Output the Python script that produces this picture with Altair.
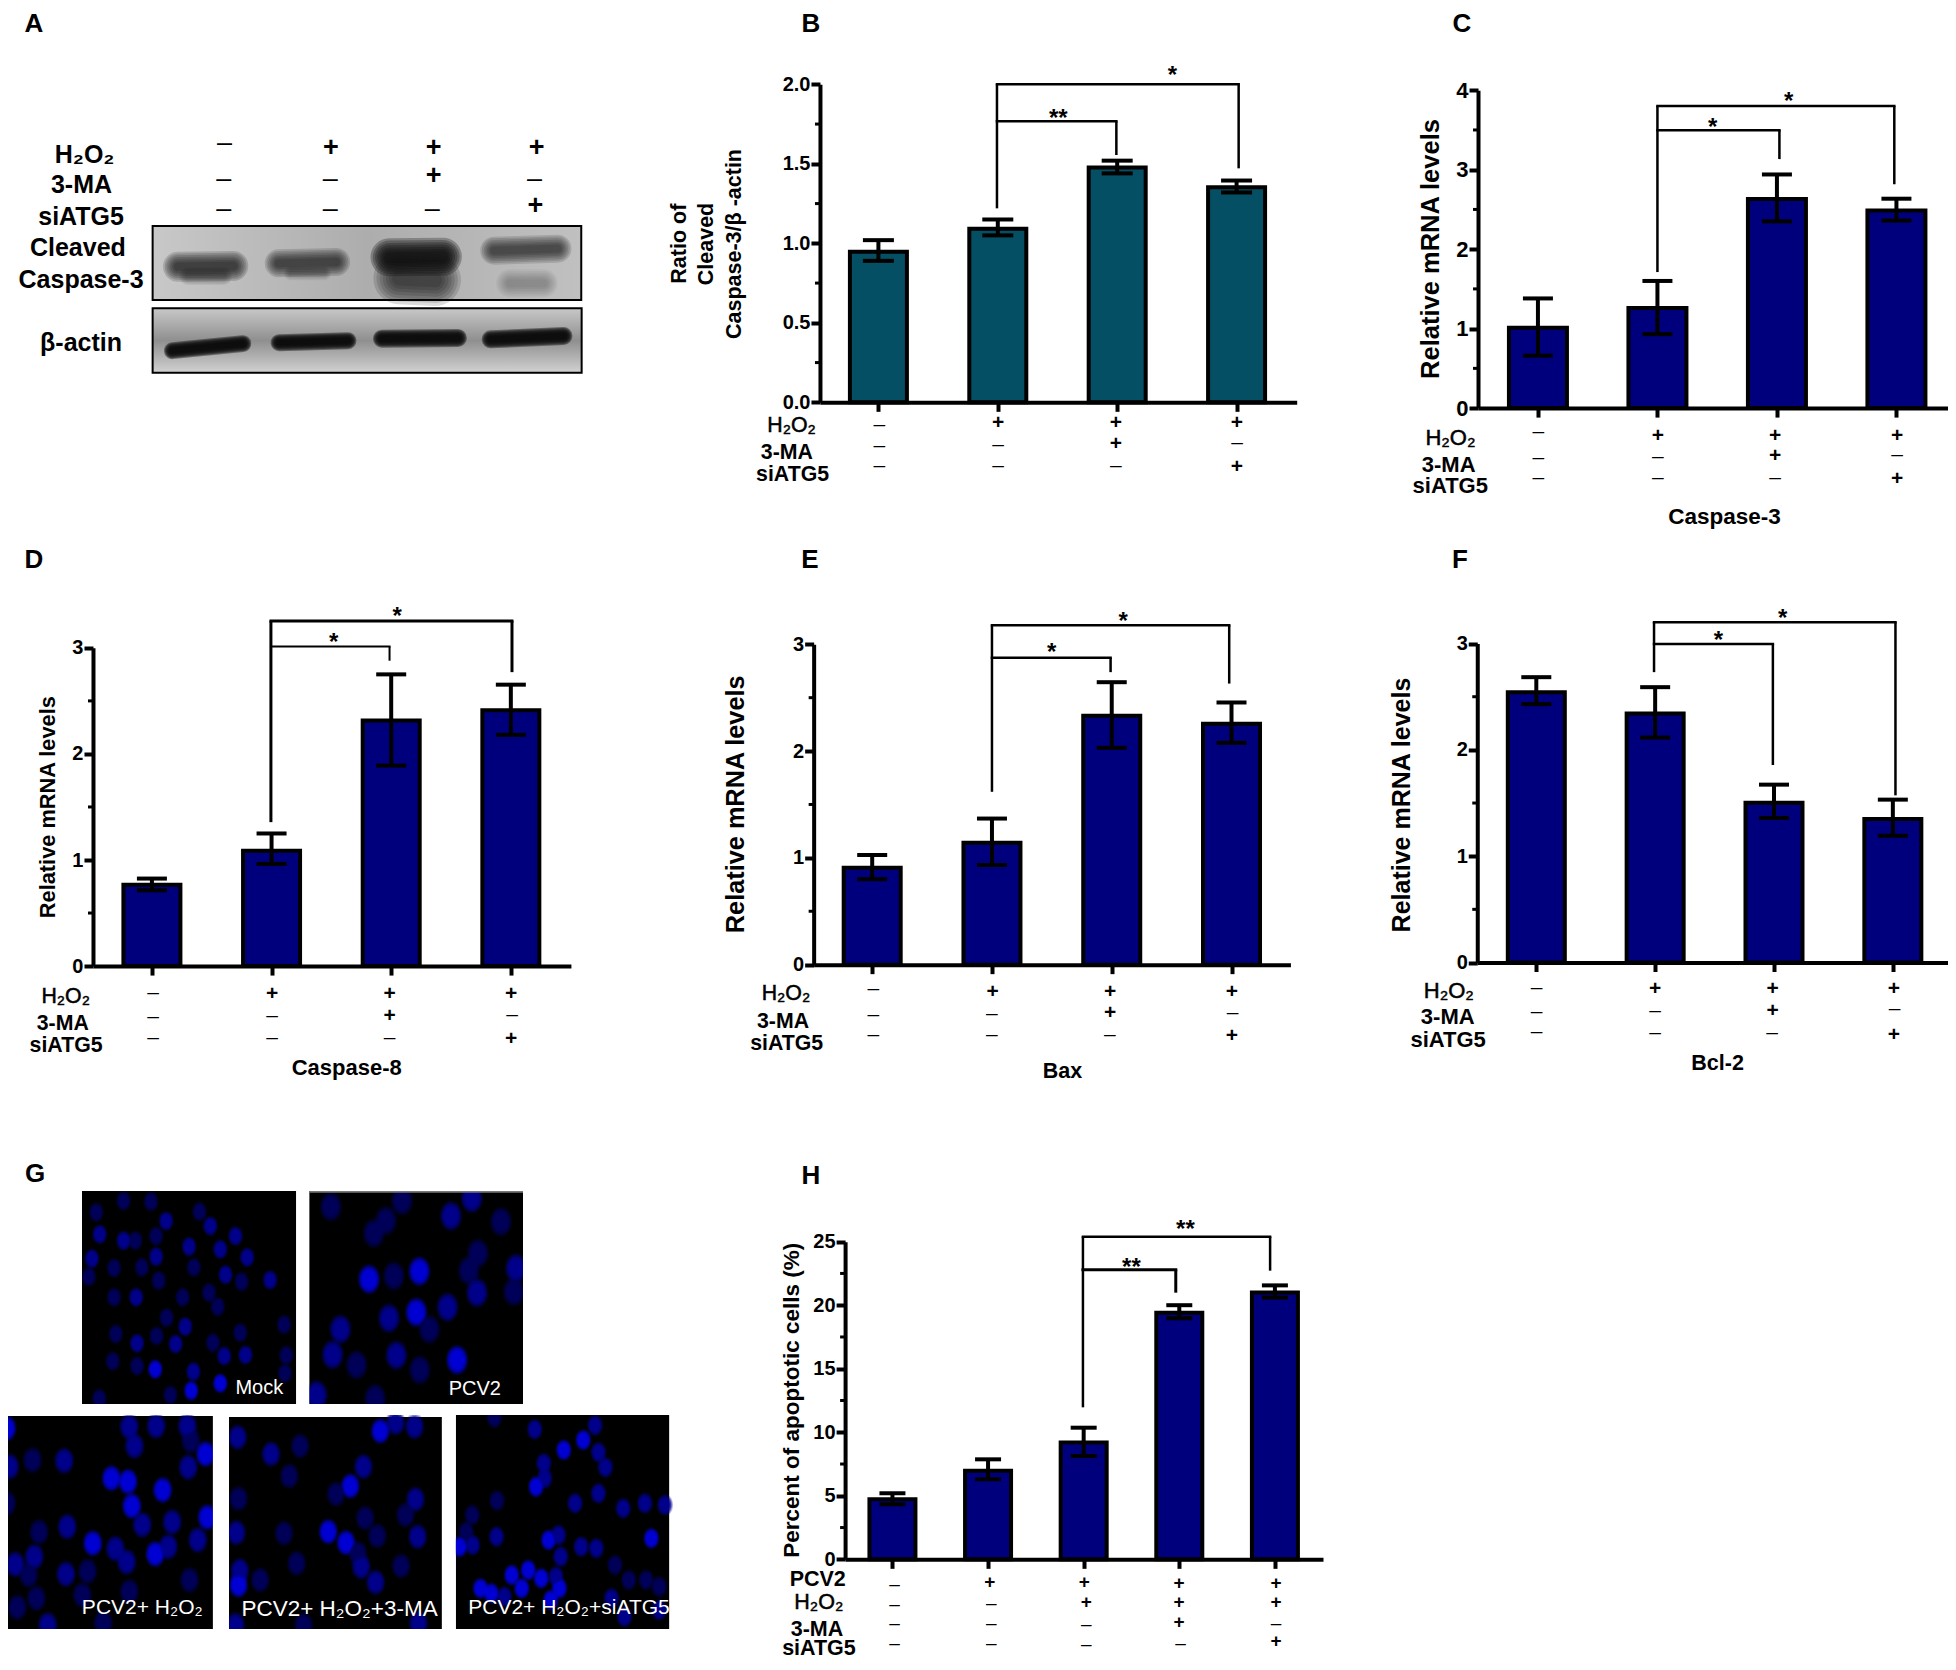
import altair as alt
import pandas as pd

FONT = "Liberation Sans"
W, H = 1940, 1654
PLUS, MINUS = "+", "–"
NAVY, TEAL = "#00007d", "#044f63"

# ---------- values ----------
B_MEANS = [0.947, 1.092, 1.477, 1.352]
B_UPPER = [1.02, 1.15, 1.52, 1.395]
B_LOWER = [0.89, 1.05, 1.44, 1.32]
C_MEANS = [1.01, 1.26, 2.63, 2.485]
C_UPPER = [1.38, 1.60, 2.94, 2.635]
C_LOWER = [0.66, 0.93, 2.35, 2.36]
D_MEANS = [0.767, 1.087, 2.314, 2.411]
D_UPPER = [0.825, 1.25, 2.75, 2.653]
D_LOWER = [0.714, 0.963, 1.89, 2.18]
E_MEANS = [0.907, 1.141, 2.331, 2.257]
E_UPPER = [1.027, 1.368, 2.645, 2.455]
E_LOWER = [0.80, 0.933, 2.03, 2.077]
F_MEANS = [2.543, 2.342, 1.502, 1.351]
F_UPPER = [2.684, 2.59, 1.673, 1.532]
F_LOWER = [2.43, 2.116, 1.36, 1.192]
H_MEANS = [4.73, 6.98, 9.19, 19.4, 21.0]
H_UPPER = [5.2, 7.87, 10.36, 20.0, 21.56]
H_LOWER = [4.33, 6.3, 8.13, 18.97, 20.6]

SIGNS_A = [(568,430,MINUS),(837,443,PLUS),(1097,443,PLUS),(1357,443,PLUS),
           (566,537,MINUS),(835,537,MINUS),(1097,527,PLUS),(1352,537,MINUS),
           (566,627,MINUS),(835,627,MINUS),(1093,627,MINUS),(1354,618,PLUS)]
SIGNS_B = [(553,1275,MINUS),(840,1270,PLUS),(1124,1270,PLUS),(1416,1270,PLUS),
           (553,1338,MINUS),(840,1336,MINUS),(1124,1333,PLUS),(1416,1330,MINUS),
           (553,1398,MINUS),(840,1398,MINUS),(1124,1398,MINUS),(1416,1402,PLUS)]
SIGNS_C = [(390,1255,MINUS),(727,1265,PLUS),(1058,1265,PLUS),(1402,1265,PLUS),
           (390,1331,MINUS),(727,1328,MINUS),(1058,1325,PLUS),(1402,1322,MINUS),
           (390,1388,MINUS),(727,1388,MINUS),(1058,1388,MINUS),(1402,1392,PLUS)]
SIGNS_D = [(400,1267,MINUS),(711,1272,PLUS),(1018,1272,PLUS),(1336,1272,PLUS),
           (400,1336,MINUS),(711,1334,MINUS),(1018,1333,PLUS),(1338,1330,MINUS),
           (400,1394,MINUS),(711,1394,MINUS),(1018,1394,MINUS),(1336,1397,PLUS)]
SIGNS_E = [(453,1258,MINUS),(765,1266,PLUS),(1072,1266,PLUS),(1390,1266,PLUS),
           (453,1330,MINUS),(763,1328,MINUS),(1072,1325,PLUS),(1392,1323,MINUS),
           (453,1387,MINUS),(763,1387,MINUS),(1071,1387,MINUS),(1390,1390,PLUS)]
SIGNS_F = [(446,1253,MINUS),(763,1258,PLUS),(1077,1258,PLUS),(1402,1258,PLUS),
           (446,1322,MINUS),(763,1320,MINUS),(1077,1320,PLUS),(1404,1314,MINUS),
           (446,1378,MINUS),(763,1380,MINUS),(1076,1380,MINUS),(1402,1385,PLUS)]
SIGNS_H = [(337,1302,MINUS),(594,1297,PLUS),(850,1297,PLUS),(1106,1300,PLUS),(1368,1300,PLUS),
           (337,1362,MINUS),(598,1360,MINUS),(855,1357,PLUS),(1106,1357,PLUS),(1368,1357,PLUS),
           (337,1420,MINUS),(598,1420,MINUS),(855,1423,MINUS),(1106,1416,PLUS),(1368,1420,MINUS),
           (337,1479,MINUS),(598,1479,MINUS),(855,1482,MINUS),(1110,1480,MINUS),(1368,1474,PLUS)]

# nuclei seen in the micrographs of panel G: x, y, brightness level
CELLS_MOCK = [(222,187,1),(285,153,1),(348,155,1),(383,213,2),(460,185,1),(485,228,2),(543,258,2),
    (230,253,2),(285,272,2),(312,272,1),(360,258,1),(436,290,2),(508,298,2),(570,322,2),(212,326,2),
    (360,320,2),(263,354,1),(327,352,1),(447,352,1),(205,380,1),(520,374,2),(366,392,1),(557,395,1),
    (623,390,2),(263,442,1),(314,442,2),(421,442,1),(482,428,1),(502,470,1),(384,503,1),(427,530,2),
    (655,524,1),(267,552,1),(361,558,1),(554,548,1),(316,580,2),(405,582,2),(491,578,1),(517,618,2),
    (566,615,2),(660,616,1),(260,634,1),(316,648,1),(358,658,3),(446,665,2),(657,670,1),(508,700,3),
    (393,735,1),(441,722,3),(229,745,1)]
CELLS_PCV2 = [(763,170,1),(927,152,1),(1088,145,2),(890,212,1),(862,250,1),(1040,198,2),(1155,215,1),
    (1102,310,1),(1190,355,2),(1081,362,1),(851,388,3),(908,378,1),(967,364,3),(1100,428,2),(1185,425,1),
    (897,505,2),(960,487,3),(1032,472,2),(785,538,2),(990,538,1),(767,614,2),(822,645,1),(914,616,2),
    (1054,630,3),(968,660,1),(730,735,2),(865,745,1)]
CELLS_H2O2 = [(15,835,3),(298,830,2),(360,828,2),(432,828,2),(310,888,2),(440,872,1),(474,912,3),(22,950,2),
    (75,930,1),(148,932,2),(257,985,3),(295,995,3),(434,952,2),(375,1020,3),(304,1068,3),(478,1102,3),
    (397,1116,2),(328,1124,2),(155,1130,2),(90,1146,1),(214,1180,3),(456,1170,2),(266,1196,2),(358,1212,3),
    (388,1190,2),(79,1220,2),(292,1236,2),(35,1243,2),(66,1275,1),(152,1272,2),(202,1264,1),(437,1290,1),
    (84,1345,1),(40,1372,1),(190,1335,1),(298,1325,1),(110,1425,2),(238,1420,1),(15,1060,1)]
CELLS_3MA = [(548,862,2),(625,912,2),(692,888,1),(877,843,3),(912,818,2),(956,830,2),(838,950,2),(667,978,1),
    (808,1008,3),(775,1032,1),(550,1046,1),(958,1048,2),(842,1104,1),(935,1095,1),(545,1148,2),(655,1150,1),
    (757,1145,3),(798,1178,3),(870,1158,1),(963,1160,2),(825,1210,1),(684,1240,1),(833,1250,2),(925,1248,1),
    (553,1262,2),(600,1290,1),(550,1305,3),(866,1297,2),(965,1420,2),(543,1425,2),(700,1425,1)]
CELLS_ATG5 = [(1140,803,1),(1233,838,2),(1372,826,2),(1345,870,3),(1300,900,3),(1380,907,2),(1254,940,2),
    (1396,952,2),(1256,985,2),(1236,1010,3),(1146,1052,1),(1326,1060,2),(1380,1030,2),(1437,1075,2),
    (1487,1060,2),(1533,1065,2),(1089,1095,1),(1145,1160,2),(1265,1170,3),(1288,1155,2),(1502,1165,3),
    (1075,1145,1),(1090,1185,2),(1060,1190,3),(1340,1190,2),(1375,1195,2),(1293,1220,2),(1418,1245,1),
    (1450,1290,1),(1490,1290,1),(1520,1310,1),(1180,1275,3),(1218,1260,3),(1248,1285,3),(1282,1280,2),
    (1108,1315,3),(1133,1330,3),(1163,1340,2),(1203,1315,3),(1290,1315,3),(1270,1350,3),(1410,1345,2),
    (1520,1380,2),(1440,1400,2)]

LEVEL_COLOR = {1: "#00005c", 2: "#000090", 3: "#0000dc"}


# ---------- helpers ----------
class Crop:
    """A picture-unit scale pair for the annotations of one region."""
    def __init__(self, ox, oy, w, h, xs, ys):
        self.ox, self.oy, self.w, self.h, self.xs, self.ys = ox, oy, w, h, xs, ys
        self.sx = alt.Scale(domain=[0, w * xs], range=[ox - 8, ox + w - 8], nice=False, zero=False)
        self.sy = alt.Scale(domain=[0, h * ys], range=[oy - 8, oy + h - 8], nice=False, zero=False)

    def px(self, z):
        return self.ox + z / self.xs - 8

    def py(self, z):
        return self.oy + z / self.ys - 8

    def X(self, f):
        return alt.X(f, scale=self.sx, axis=None)

    def Y(self, f):
        return alt.Y(f, scale=self.sy, axis=None)

    def text(self, s, x, y, size, align="center", weight="bold", angle=0, color="black", dy=0, stroke=None):
        kw = dict(font=FONT, fontSize=size, fontWeight=weight, align=align, baseline="middle",
                  color=color, dy=dy)
        if angle:
            kw["angle"] = angle
        if stroke:
            kw["stroke"] = color
            kw["strokeWidth"] = stroke
        return alt.Chart(pd.DataFrame({"x": [x], "y": [y], "t": [s]})).mark_text(**kw).encode(
            x=self.X("x:Q"), y=self.Y("y:Q"), text="t:N")

    def signs(self, rows, size):
        df = pd.DataFrame(rows, columns=["x", "y", "t"])
        a = alt.Chart(df[df.t == PLUS]).mark_text(font=FONT, fontSize=size, fontWeight="bold", align="center",
                                                  baseline="middle", color="black").encode(
            x=self.X("x:Q"), y=self.Y("y:Q"), text="t:N")
        b = alt.Chart(df[df.t == MINUS]).mark_text(font=FONT, fontSize=size, fontWeight="normal", align="center",
                                                   baseline="middle", color="black").encode(
            x=self.X("x:Q"), y=self.Y("y:Q"), text="t:N")
        return [a, b]

    def brackets(self, items, stars):
        h, v = [], []
        for x1, x2, y, lb, rb, lw in items:
            h.append(dict(x=x1, x2=x2, y=y, lw=lw))
            if lb is not None:
                v.append(dict(x=x1, y=y, y2=lb, lw=lw))
            v.append(dict(x=x2, y=y, y2=rb, lw=lw))
        out = [
            alt.Chart(pd.DataFrame(h)).mark_rule(color="black", strokeCap="square").encode(
                x=self.X("x:Q"), x2="x2:Q", y=self.Y("y:Q"), size=alt.Size("lw:Q", scale=None, legend=None)),
            alt.Chart(pd.DataFrame(v)).mark_rule(color="black").encode(
                x=self.X("x:Q"), y=self.Y("y:Q"), y2="y2:Q", size=alt.Size("lw:Q", scale=None, legend=None)),
        ]
        for x, y, s in stars:
            out.append(self.text(s, x, y, 24, dy=6))
        return out


def bar_panel(crop, means, upper, lower, ymax, ticks, minor, fmt, axis_x, base, top, right, centers,
              bar_w, cap_w, color, tick_font):
    n = len(means)
    step = (centers[-1] - centers[0]) / (n - 1)
    dom0 = 1 + (axis_x - centers[0]) / step
    dom1 = 1 + (right - centers[0]) / step
    x0, x1 = crop.px(axis_x), crop.px(right)
    y0, y1 = crop.py(base), crop.py(top)
    unit = (x1 - x0) / (dom1 - dom0)
    sx = alt.Scale(domain=[dom0, dom1], range=[x0, x1], nice=False, zero=False, padding=0)
    sy = alt.Scale(domain=[0, ymax], range=[y0, y1], nice=False, zero=False)
    xaxis = alt.Axis(orient="bottom", offset=-(H - y0), values=list(range(1, n + 1)), labels=False, title=None,
                     grid=False, tickSize=9, tickWidth=4, tickColor="black", domainColor="black", domainWidth=4,
                     zindex=1)
    yaxis = alt.Axis(orient="left", offset=-x0, values=ticks, format=fmt, title=None, grid=False, tickSize=9,
                     tickWidth=4, tickColor="black", domainColor="black", domainWidth=4, labelFont=FONT,
                     labelFontWeight="bold", labelFontSize=tick_font, labelColor="black", labelPadding=1,
                     labelOverlap=False, labelBound=False, labelFlush=False, zindex=1)
    g = list(range(1, n + 1))
    df = pd.DataFrame({"g": g, "v": means, "hi": upper, "lo": lower})
    bars = alt.Chart(df).mark_bar(size=bar_w - 4, color=color, stroke="black", strokeWidth=4, orient="vertical").encode(
        x=alt.X("g:Q", scale=sx, axis=xaxis), y=alt.Y("v:Q", scale=sy, axis=yaxis, stack=None))
    stems = alt.Chart(df).mark_rule(color="black", size=4).encode(
        x=alt.X("g:Q", scale=sx, axis=None), y=alt.Y("lo:Q", scale=sy, axis=None), y2="hi:Q")
    half = cap_w / 2 / unit
    caps_df = pd.DataFrame({"a": [i - half for i in g] * 2, "b": [i + half for i in g] * 2,
                            "y": list(upper) + list(lower)})
    caps = alt.Chart(caps_df).mark_rule(color="black", size=4).encode(
        x=alt.X("a:Q", scale=sx, axis=None), x2="b:Q", y=alt.Y("y:Q", scale=sy, axis=None))
    tick_len = 5 / unit
    minor_df = pd.DataFrame({"a": [dom0 - tick_len] * len(minor), "b": [dom0] * len(minor), "y": minor})
    mins = alt.Chart(minor_df).mark_rule(color="black", size=3).encode(
        x=alt.X("a:Q", scale=sx, axis=None), x2="b:Q", y=alt.Y("y:Q", scale=sy, axis=None))
    return [bars, alt.layer(stems, caps, mins)]


def labels(crop, rows, size):
    return [crop.text(s, x, y, size, align="right", weight="bold" if s != "H₂O₂" else "normal",
                      stroke=0.5 if s == "H₂O₂" else None) for s, x, y in rows]


layers = []

# ---------- page letters ----------
page = Crop(0, 0, 1956, 1670, 1, 1)
page_items = [page.text(s, x, y, 26) for s, x, y in [
    ("A", 34, 24), ("B", 811, 24), ("C", 1462, 24), ("D", 34, 560), ("E", 810, 560), ("F", 1460, 560),
    ("G", 35, 1174), ("H", 811, 1176)]]

# ---------- panel A ----------
ca = Crop(0, 0, 620, 400, 1568 / 620, 3)
blot_grad1 = alt.Gradient(gradient="linear", x1=0, x2=1, y1=0, y2=0, stops=[
    alt.GradientStop(color="#c8c8c8", offset=0), alt.GradientStop(color="#adadad", offset=0.5),
    alt.GradientStop(color="#c0c0c0", offset=1)])
blot_grad2 = alt.Gradient(gradient="linear", x1=0, x2=0, y1=0, y2=1, stops=[
    alt.GradientStop(color="#c8c8c8", offset=0), alt.GradientStop(color="#8f8f8f", offset=0.5),
    alt.GradientStop(color="#d2d2d2", offset=1)])
rect1 = alt.Chart(pd.DataFrame({"x": [386], "x2": [1470], "y": [678], "y2": [900]})).mark_rect(
    fill=blot_grad1, stroke="black", strokeWidth=2).encode(x=ca.X("x:Q"), x2="x2:Q", y=ca.Y("y:Q"), y2="y2:Q")
rect2 = alt.Chart(pd.DataFrame({"x": [386], "x2": [1471], "y": [925], "y2": [1118]})).mark_rect(
    fill=blot_grad2, stroke="black", strokeWidth=2).encode(x=ca.X("x:Q"), x2="x2:Q", y=ca.Y("y:Q"), y2="y2:Q")
# lane x-start, y-start, x-end, y-end, band thickness, peak darkness
BANDS = [
    (450, 800, 590, 798, 30, .72), (475, 828, 565, 828, 18, .35),
    (705, 790, 850, 786, 28, .68), (735, 820, 820, 820, 14, .25),
    (985, 772, 1120, 770, 38, .92), (1010, 835, 1100, 840, 52, .68),
    (1250, 752, 1410, 746, 28, .66), (1290, 850, 1375, 850, 28, .26),
    (436, 1052, 614, 1031, 17, 1), (706, 1028, 880, 1022, 17, 1),
    (966, 1016, 1158, 1014, 18, 1), (1241, 1018, 1425, 1008, 18, 1),
]
FADE = [1.0, .88, .76, .64, .52, .40, .28]
band_rows = []
for x1_, y1_, x2_, y2_, w_, o_ in BANDS:
    for f_ in FADE:
        band_rows.append(dict(x=x1_, y=y1_, x2=x2_, y2=y2_, w=w_ * f_, o=1 - (1 - o_ * .98) ** (1 / len(FADE))))
bands = alt.Chart(pd.DataFrame(band_rows)).mark_rule(color="#0c0c0c", strokeCap="round").encode(
    x=ca.X("x:Q"), x2="x2:Q", y=ca.Y("y:Q"), y2="y2:Q", size=alt.Size("w:Q", scale=None, legend=None),
    opacity=alt.Opacity("o:Q", scale=None, legend=None))
layers.append(alt.layer(rect1, rect2, bands, *ca.signs(SIGNS_A, 27),
                        *[ca.text(s, x, y, 25) for s, x, y in [
                            ("H₂O₂", 214, 465), ("3-MA", 206, 555), ("siATG5", 205, 650), ("Cleaved", 197, 745),
                            ("Caspase-3", 205, 840), ("β-actin", 205, 1030)]]))

# ---------- panel B ----------
cb = Crop(650, 0, 650, 500, 1568 / 650, 3)
layers += bar_panel(cb, B_MEANS, B_UPPER, B_LOWER, 2.0, [0, .5, 1, 1.5, 2], [.25, .75, 1.25, 1.75], ".1f",
                    410, 1207, 253, 1560, [551, 840, 1126, 1415], 61, 31, TEAL, 20)
layers.append(alt.layer(*cb.signs(SIGNS_B, 21),
    *labels(cb, [("H₂O₂", 400, 1278), ("3-MA", 393, 1358), ("siATG5", 432, 1424)], 21.3),
    cb.text("Ratio of", 72, 731, 21.5, angle=270), cb.text("Cleaved", 138, 732, 21.5, angle=270),
    cb.text("Caspase-3/β -actin", 205, 732, 21.5, angle=270),
    *cb.brackets([(837, 1420, 253, 625, 505, 2.5), (837, 1125, 364, None, 465, 2.5)],
                 [(1260, 210, "*"), (985, 338, "**")])))

# ---------- panel C ----------
cc = Crop(1400, 0, 556, 540, 1568 / 556, 1568 / 540)
layers += bar_panel(cc, C_MEANS, C_UPPER, C_LOWER, 4, [0, 1, 2, 3, 4], [.5, 1.5, 2.5, 3.5], "d",
                    220, 1185, 262, 1568, [389, 726, 1062, 1400], 62, 30, NAVY, 22)
layers.append(alt.layer(*cc.signs(SIGNS_C, 21),
    *labels(cc, [("H₂O₂", 213, 1272), ("3-MA", 213, 1350), ("siATG5", 248, 1412)], 22),
    cc.text("Caspase-3", 915, 1500, 22.5), cc.text("Relative mRNA levels", 88, 723, 25.5, angle=270),
    *cc.brackets([(726, 1394, 308, 790, 535, 2.5), (726, 1070, 378, None, 462, 2.5)],
                 [(1096, 278, "*"), (882, 355, "*")])))

# ---------- panel D ----------
cd = Crop(0, 540, 600, 560, 1568 / 600, 2.8)
layers += bar_panel(cd, D_MEANS, D_UPPER, D_LOWER, 3, [0, 1, 2, 3], [.5, 1.5, 2.5], "d",
                    243, 1193, 302, 1492, [397, 708, 1021, 1335], 61, 30, NAVY, 20)
layers.append(alt.layer(*cd.signs(SIGNS_D, 21),
    *labels(cd, [("H₂O₂", 235, 1280), ("3-MA", 232, 1356), ("siATG5", 268, 1417)], 21.3),
    cd.text("Caspase-8", 906, 1477, 22), cd.text("Relative mRNA levels", 125, 748, 21.8, angle=270),
    *cd.brackets([(708, 1338, 227, 790, 370, 3), (708, 1018, 298, None, 338, 2)],
                 [(1038, 198, "*"), (872, 272, "*")])))

# ---------- panel E ----------
ce = Crop(700, 540, 600, 560, 1568 / 600, 2.8)
layers += bar_panel(ce, E_MEANS, E_UPPER, E_LOWER, 3, [0, 1, 2, 3], [.5, 1.5, 2.5], "d",
                    297, 1189, 292, 1543, [450, 764, 1076, 1389], 61, 30, NAVY, 20)
layers.append(alt.layer(*ce.signs(SIGNS_E, 21),
    *labels(ce, [("H₂O₂", 288, 1270), ("3-MA", 285, 1350), ("siATG5", 322, 1412)], 21.3),
    ce.text("Bax", 947, 1490, 21.5), ce.text("Relative mRNA levels", 93, 740, 25.3, angle=270),
    *ce.brackets([(763, 1383, 239, 705, 402, 2.5), (763, 1073, 330, None, 370, 2.5)],
                 [(1106, 212, "*"), (919, 300, "*")])))

# ---------- panel F ----------
cf = Crop(1370, 540, 586, 560, 1568 / 586, 2.8)
layers += bar_panel(cf, F_MEANS, F_UPPER, F_LOWER, 3, [0, 1, 2, 3], [.5, 1.5, 2.5], "d",
                    287, 1183, 290, 1560, [445, 763, 1080, 1399], 61, 30, NAVY, 20)
layers.append(alt.layer(*cf.signs(SIGNS_F, 21),
    *labels(cf, [("H₂O₂", 278, 1263), ("3-MA", 280, 1335), ("siATG5", 310, 1400)], 22),
    cf.text("Bcl-2", 930, 1467, 21.5), cf.text("Relative mRNA levels", 85, 742, 25, angle=270),
    *cf.brackets([(760, 1406, 230, 370, 715, 2.5), (760, 1078, 291, None, 630, 2.5)],
                 [(1104, 203, "*"), (932, 267, "*")])))

# ---------- panel G ----------
cg = Crop(0, 1150, 680, 520, 1568 / 680, 3)
FIELDS = [(189, 683, 123, 762), (713, 1206, 123, 762), (0, 491, 798, 1437), (528, 1019, 801, 1437),
          (1051, 1543, 795, 1437)]
fields = alt.Chart(pd.DataFrame(FIELDS, columns=["x", "x2", "y", "y2"])).mark_rect(color="black").encode(
    x=cg.X("x:Q"), x2="x2:Q", y=cg.Y("y:Q"), y2="y2:Q")
ELLIPSE = "M0,-1.12 A0.84,1.12 0 1 1 0,1.12 A0.84,1.12 0 1 1 0,-1.12 Z"
cell_layers = []
for cells, s in [(CELLS_MOCK, 230), (CELLS_PCV2, 500), (CELLS_H2O2, 400), (CELLS_3MA, 380), (CELLS_ATG5, 260)]:
    cdf = pd.DataFrame(cells, columns=["x", "y", "l"])
    cdf["c"] = cdf.l.map(LEVEL_COLOR)
    for factor, op in [(1.5, .22), (1.2, .35), (.9, .6), (.55, .8)]:
        cell_layers.append(alt.Chart(cdf).mark_point(shape=ELLIPSE, filled=True, size=s * factor, opacity=op,
                                                     strokeWidth=0).encode(
            x=cg.X("x:Q"), y=cg.Y("y:Q"), color=alt.Color("c:N", scale=None, legend=None)))
MASKS = [(0, 189, 90, 798), (683, 713, 90, 798), (1206, 1568, 90, 795), (0, 1568, 90, 123), (0, 1568, 762, 795),
         (491, 528, 762, 1437), (1019, 1051, 762, 1437), (0, 1568, 1437, 1500)]
masks = alt.Chart(pd.DataFrame(MASKS, columns=["x", "x2", "y", "y2"])).mark_rect(color="white").encode(
    x=cg.X("x:Q"), x2="x2:Q", y=cg.Y("y:Q"), y2="y2:Q")
grayline = alt.Chart(pd.DataFrame({"x": [713], "x2": [1206], "y": [123], "y2": [128]})).mark_rect(color="#777777").encode(
    x=cg.X("x:Q"), x2="x2:Q", y=cg.Y("y:Q"), y2="y2:Q")
layers.append(alt.layer(fields, *cell_layers, masks, grayline,
    *[cg.text(s, x, y, z, weight="normal", color="white") for s, x, y, z in [
        ("Mock", 598, 714, 20), ("PCV2", 1095, 718, 20), ("PCV2+ H₂O₂", 328, 1375, 21),
        ("PCV2+ H₂O₂+3-MA", 783, 1378, 22.5), ("PCV2+ H₂O₂+siATG5", 1312, 1373, 21)]]))

# ---------- panel H ----------
ch = Crop(770, 1150, 580, 520, 1568 / 580, 3)
layers += bar_panel(ch, H_MEANS, H_UPPER, H_LOWER, 25, [0, 5, 10, 15, 20, 25], [2.5, 7.5, 12.5, 17.5, 22.5], "d",
                    203, 1228, 275, 1495, [331, 589, 848, 1105, 1365], 50, 26, NAVY, 20)
layers.append(alt.layer(*ch.signs(SIGNS_H, 19),
    *labels(ch, [("PCV2", 205, 1290), ("H₂O₂", 198, 1358), ("3-MA", 198, 1440), ("siATG5", 232, 1497)], 21.5),
    ch.text("Percent of apoptotic cells (%)", 60, 751, 22.5, angle=270),
    *ch.brackets([(846, 1352, 260, 772, 362, 2.5), (846, 1097, 359, None, 428, 3)],
                 [(1123, 222, "**"), (977, 335, "**")])))

layers.append(alt.layer(*page_items))

chart = alt.layer(*layers).resolve_scale(x="independent", y="independent").properties(
    width=W, height=H, padding=0, autosize=alt.AutoSizeParams(type="none"), background="white"
).configure_view(stroke=None)

chart.save("out.html", embed_options={"renderer": "svg", "actions": False})
